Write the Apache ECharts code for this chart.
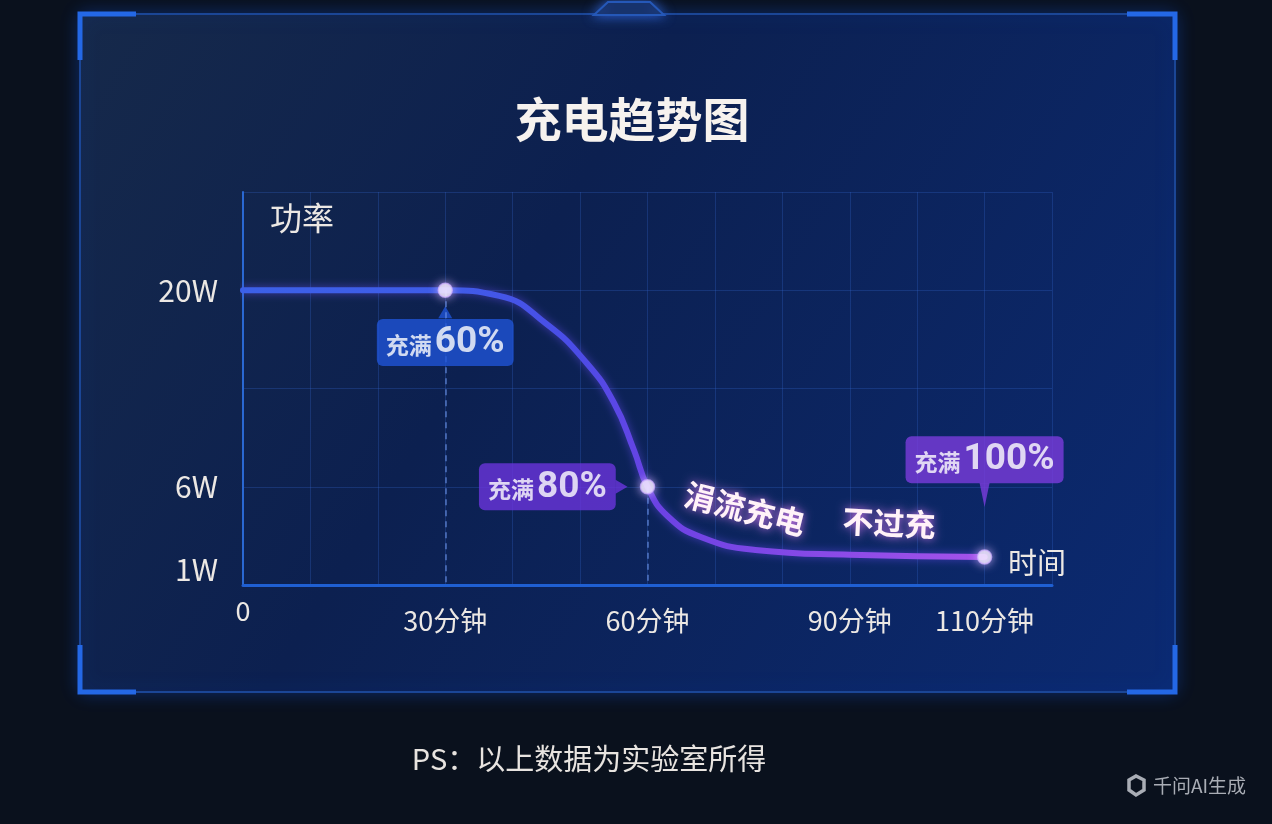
<!DOCTYPE html>
<html><head><meta charset="utf-8">
<script src="https://cdn.jsdelivr.net/npm/echarts@6/dist/echarts.min.js"></script>
<style>html,body{margin:0;padding:0;background:#0a111d;}#c{width:1272px;height:824px;}</style>
</head><body><div id="c"></div>
<script>
// ---- data ----
const times = [0, 30, 38, 45, 51, 55, 58, 60, 63, 68, 76, 90, 110];
const power = [20, 20, 19.6, 17.6, 14.8, 12.0, 8.6, 6, 3.9, 2.4, 1.5, 1.15, 1.0];
const keyTimes = [30, 60, 110];
const keyPower = [20, 6, 1];
const keyLabels = ['60%', '80%', '100%'];
const keyPrefix = '充满';
const xTickValues = [0, 30, 60, 90, 110];
const yTickValues = [1, 6, 20];
const titleText = '充电趋势图';
const noteText = '涓流充电';
const noteText2 = '不过充';
const footerText = 'PS：以上数据为实验室所得';
const watermarkText = '千问AI生成';

const CJK = '"Noto Sans CJK SC", "Noto Sans", sans-serif';
const NUM = 'Roboto, "Noto Sans", sans-serif';

const chart = echarts.init(document.getElementById('c'), null, {renderer: 'canvas'});

const boxColors = ['#1f54d6', '#6a34dc', '#7a3cdc'];
const labelCfg = [
  {position: 'bottom', distance: 21},
  {position: 'left', distance: 24},
  {position: 'top', distance: 66}
];
const pointerCfg = [
  {offset: [0, 22], rotate: 0, size: [14, 12]},
  {offset: [-26, 0], rotate: -90, size: [14, 12]},
  {offset: [0, -62], rotate: 180, size: [10, 24]}
];

const keyData = keyTimes.map((t, i) => ({
  value: [t, keyPower[i]],
  label: {
    show: true,
    position: labelCfg[i].position,
    distance: labelCfg[i].distance,
    formatter: '{a|' + keyPrefix + '}{b|' + keyLabels[i] + '}',
    backgroundColor: boxColors[i],
    borderRadius: 6,
    padding: [5, 9, 4, 9],
    rich: {
      a: {fontSize: 23, color: '#ffffff', fontFamily: CJK, fontWeight: 'bold', padding: [4, 3, 0, 0]},
      b: {fontSize: 37, color: '#ffffff', fontFamily: NUM, fontWeight: 'bold', lineHeight: 38}
    }
  }
}));

const pointerData = keyTimes.map((t, i) => ({
  value: [t, keyPower[i]],
  symbolOffset: pointerCfg[i].offset,
  symbolRotate: pointerCfg[i].rotate,
  symbolSize: pointerCfg[i].size,
  itemStyle: {color: boxColors[i]}
}));

const dashData = keyTimes.slice(0, 2).map((t, i) => [
  {coord: [t, keyPower[i]]},
  {coord: [t, -1]}
]);

const lineGrad = new echarts.graphic.LinearGradient(0, 0, 1, 0, [
  {offset: 0, color: '#3c60e8'},
  {offset: 0.28, color: '#3f5ce8'},
  {offset: 0.45, color: '#4b4ce6'},
  {offset: 0.56, color: '#6c42e4'},
  {offset: 1, color: '#a552ea'}
]);

const labelColor = '#ece8e4';

const option = {
  backgroundColor: '#0a111d',
  animation: false,
  title: [
    {text: titleText, left: 627, top: 91, textAlign: 'center',
     textStyle: {fontSize: 47, fontWeight: 'bold', color: '#f6f2ee', fontFamily: CJK}},
    {text: footerText, left: 584, top: 739, textAlign: 'center',
     textStyle: {fontSize: 29, fontWeight: 'normal', color: '#e8e4e0', fontFamily: CJK}}
  ],
  graphic: [
    // panel
    {type: 'rect', z: -100, shape: {x: 80, y: 14, width: 1095, height: 678, r: 4},
     style: {
       fill: new echarts.graphic.LinearGradient(0, 0, 1, 1, [
         {offset: 0, color: '#16294a'},
         {offset: 0.4, color: '#0c2050'},
         {offset: 1, color: '#0b2a72'}
       ]),
       stroke: '#1b4696', lineWidth: 2, shadowBlur: 18, shadowColor: 'rgba(20,80,220,0.4)'
     }},
    // top notch
    {type: 'polygon', z: -99, shape: {points: [[594, 15], [608, 2], [650, 2], [664, 15]]},
     style: {fill: '#142b5c', stroke: '#2558b8', lineWidth: 2, shadowBlur: 12, shadowColor: 'rgba(60,120,255,0.7)'}},
    // corner brackets
    {type: 'polyline', z: -98, shape: {points: [[80, 60], [80, 14], [136, 14]]}, style: {stroke: '#2468e6', lineWidth: 5}},
    {type: 'polyline', z: -98, shape: {points: [[1127, 14], [1175, 14], [1175, 60]]}, style: {stroke: '#2468e6', lineWidth: 5}},
    {type: 'polyline', z: -98, shape: {points: [[80, 645], [80, 692], [136, 692]]}, style: {stroke: '#2468e6', lineWidth: 5}},
    {type: 'polyline', z: -98, shape: {points: [[1127, 692], [1175, 692], [1175, 645]]}, style: {stroke: '#2468e6', lineWidth: 5}},
    // glowing annotation text
    {type: 'text', z: 100, x: 745, y: 509, rotation: -0.25,
     style: {text: noteText, fontSize: 31, fontWeight: 'bold', fontFamily: CJK, fill: '#fff2f8',
             align: 'center', verticalAlign: 'middle', textShadowColor: 'rgba(235,130,255,0.9)', textShadowBlur: 10}},
    {type: 'text', z: 100, x: 889, y: 523, rotation: -0.05,
     style: {text: noteText2, fontSize: 31, fontWeight: 'bold', fontFamily: CJK, fill: '#fff2f8',
             align: 'center', verticalAlign: 'middle', textShadowColor: 'rgba(235,130,255,0.9)', textShadowBlur: 10}},
    // watermark
    {type: 'polygon', z: 100, shape: {points: [[1129, 780], [1136, 776], [1144, 780], [1144, 790], [1136, 795], [1129, 790]]},
     style: {fill: 'none', stroke: '#a9adb5', lineWidth: 3.5}},
    {type: 'text', z: 100, x: 1153, y: 786,
     style: {text: watermarkText, fontSize: 19, fontFamily: CJK, fill: '#a9adb5', align: 'left', verticalAlign: 'middle'}}
  ],
  grid: {left: 243, right: 220, top: 192, bottom: 239, containLabel: false, outerBoundsMode: 'none'},
  xAxis: {
    type: 'value', min: 0, max: 120, interval: 10,
    name: '时间', nameLocation: 'end', nameGap: -44,
    nameTextStyle: {fontSize: 29, color: labelColor, fontFamily: CJK, verticalAlign: 'bottom', padding: [0, 0, 8, 0]},
    axisLine: {show: true, onZero: false, lineStyle: {color: '#1f5fd2', width: 3}},
    axisTick: {show: false},
    splitLine: {show: true, lineStyle: {color: 'rgba(55,105,210,0.28)', width: 1}},
    axisLabel: {
      customValues: xTickValues, margin: 13, color: labelColor, fontFamily: CJK,
      formatter: v => v === 0 ? '{z|0}' : '{n|' + v + '分钟}',
      rich: {z: {fontSize: 27, lineHeight: 26, color: labelColor, fontFamily: CJK},
             n: {fontSize: 27, lineHeight: 46, color: labelColor, fontFamily: CJK}}
    }
  },
  yAxis: [
    {
      type: 'value', min: -1, max: 27,
      name: '功率', nameLocation: 'end', nameGap: -26,
      nameTextStyle: {fontSize: 32, color: labelColor, fontFamily: CJK, align: 'left', verticalAlign: 'middle', padding: [0, 0, 0, 27]},
      axisLine: {show: true, lineStyle: {color: '#2a68d2', width: 2}},
      axisTick: {show: false},
      splitLine: {show: false},
      axisLabel: {
        customValues: yTickValues, margin: 25, color: labelColor, fontFamily: CJK, fontSize: 30,
        formatter: v => v === 1 ? '{low|1W}' : '{n|' + v + 'W}',
        rich: {low: {fontSize: 30, color: labelColor, fontFamily: CJK, padding: [26, 0, 0, 0]},
               n: {fontSize: 30, color: labelColor, fontFamily: CJK}}
      }
    },
    {
      type: 'value', min: 0, max: 28, interval: 7, position: 'left',
      axisLine: {show: false}, axisTick: {show: false}, axisLabel: {show: false},
      splitLine: {show: true, lineStyle: {color: 'rgba(55,105,210,0.28)', width: 1}}
    }
  ],
  series: [
    {
      type: 'line', yAxisIndex: 0, z: 3,
      data: times.map((t, i) => [t, power[i]]),
      smooth: 0.5, showSymbol: false,
      lineStyle: {width: 6, color: lineGrad, shadowBlur: 8, shadowColor: 'rgba(110,80,255,0.55)', cap: 'round'},
      markLine: {
        silent: true, symbol: 'none', label: {show: false},
        lineStyle: {type: [6, 5], color: 'rgba(110,150,235,0.7)', width: 1.5},
        data: dashData
      }
    },
    {
      type: 'scatter', yAxisIndex: 0, z: 4, silent: true,
      symbol: 'triangle', data: pointerData
    },
    {
      type: 'scatter', yAxisIndex: 0, z: 5, silent: true,
      symbol: 'circle', symbolSize: 14,
      itemStyle: {color: '#f7f3ff', borderColor: 'rgba(205,175,255,0.9)', borderWidth: 1.5,
                  shadowBlur: 10, shadowColor: 'rgba(215,185,255,0.95)'},
      data: keyData
    }
  ]
};
chart.setOption(option);
</script>
</body></html>
